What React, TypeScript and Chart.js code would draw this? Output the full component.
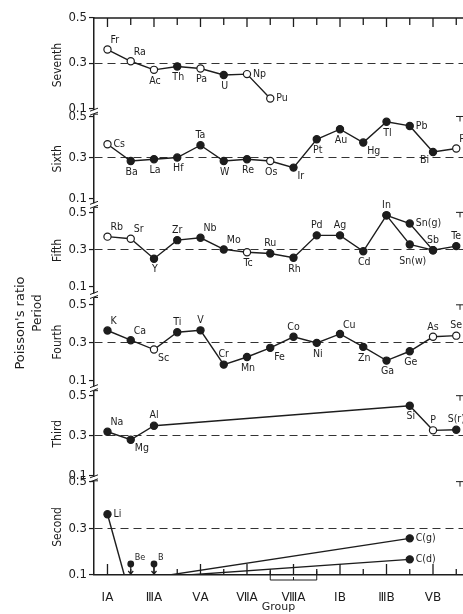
import React, { useEffect, useRef } from 'react';
import { Chart, registerables } from 'chart.js';

Chart.register(...registerables);

// ---------- data ----------
const groupLabels = ['IA', '', 'ⅢA', '', 'ⅤA', '', 'ⅦA', '', 'ⅧA', '', 'IB', '', 'ⅢB', '', 'ⅤB', ''];
const groupEightSpan = [8, 10];
const yTickValues = [0.1, 0.3, 0.5];
const referenceRatio = 0.3;

const seventhSymbols = ['Fr', 'Ra', 'Ac', 'Th', 'Pa', 'U', 'Np', 'Pu'];
const seventhGroups = [1, 2, 3, 4, 5, 6, 7, 8];
const seventhRatios = [0.36, 0.308, 0.27, 0.285, 0.276, 0.247, 0.251, 0.143];
const seventhFilled = [false, false, false, true, false, true, false, false];
const seventhLabelPos = ['ar', 'ar', 'b', 'b', 'b', 'b', 'r', 'r'];
const seventhPaths = [seventhSymbols];

const sixthSymbols = ['Cs', 'Ba', 'La', 'Hf', 'Ta', 'W', 'Re', 'Os', 'Ir', 'Pt', 'Au', 'Hg', 'Tl', 'Pb', 'Bi', 'Po'];
const sixthGroups = [1, 2, 3, 4, 5, 6, 7, 8, 9, 10, 11, 12, 13, 14, 15, 16];
const sixthRatios = [0.365, 0.283, 0.292, 0.3, 0.36, 0.283, 0.292, 0.283, 0.251, 0.389, 0.438, 0.373, 0.474, 0.454, 0.327, 0.344];
const sixthFilled = [false, true, true, true, true, true, true, false, true, true, true, true, true, true, true, false];
const sixthLabelPos = ['r', 'b', 'b', 'b', 'a', 'b', 'b', 'b', 'br', 'b', 'b', 'br', 'b', 'r', 'bl', 'ar'];
const sixthPaths = [sixthSymbols];

const fifthSymbols = ['Rb', 'Sr', 'Y', 'Zr', 'Nb', 'Mo', 'Tc', 'Ru', 'Rh', 'Pd', 'Ag', 'Cd', 'In', 'Sn(g)', 'Sn(w)', 'Sb', 'Te'];
const fifthGroups = [1, 2, 3, 4, 5, 6, 7, 8, 9, 10, 11, 12, 13, 14, 14, 15, 16];
const fifthRatios = [0.369, 0.358, 0.25, 0.35, 0.363, 0.3, 0.285, 0.278, 0.255, 0.376, 0.376, 0.29, 0.484, 0.44, 0.327, 0.296, 0.318];
const fifthFilled = [false, false, true, true, true, true, false, true, true, true, true, true, true, true, true, true, true];
const fifthLabelPos = ['ar', 'ar', 'b', 'a', 'ar', 'ar', 'b', 'a', 'b', 'a', 'a', 'b', 'a', 'r', 'bb', 'a', 'a'];
const fifthPaths = [
  ['Rb', 'Sr', 'Y', 'Zr', 'Nb', 'Mo', 'Tc', 'Ru', 'Rh', 'Pd', 'Ag', 'Cd', 'In', 'Sn(g)', 'Sb', 'Te'],
  ['In', 'Sn(w)', 'Sb'],
];

const fourthSymbols = ['K', 'Ca', 'Sc', 'Ti', 'V', 'Cr', 'Mn', 'Fe', 'Co', 'Ni', 'Cu', 'Zn', 'Ga', 'Ge', 'As', 'Se'];
const fourthGroups = [1, 2, 3, 4, 5, 6, 7, 8, 9, 10, 11, 12, 13, 14, 15, 16];
const fourthRatios = [0.365, 0.314, 0.265, 0.356, 0.366, 0.186, 0.226, 0.274, 0.332, 0.3, 0.347, 0.279, 0.207, 0.256, 0.332, 0.338];
const fourthFilled = [true, true, false, true, true, true, true, true, true, true, true, true, true, true, false, false];
const fourthLabelPos = ['ar', 'ar', 'br', 'a', 'a', 'a', 'b', 'br', 'a', 'b', 'ar', 'b', 'b', 'b', 'a', 'a'];
const fourthPaths = [fourthSymbols];

const thirdSymbols = ['Na', 'Mg', 'Al', 'Si', 'P', 'S(r)'];
const thirdGroups = [1, 2, 3, 14, 15, 16];
const thirdRatios = [0.32, 0.28, 0.35, 0.45, 0.327, 0.33];
const thirdFilled = [true, true, true, true, false, true];
const thirdLabelPos = ['ar', 'br', 'a', 'b', 'a', 'a'];
const thirdPaths = [thirdSymbols];

const secondSymbols = ['Li', 'Be', 'B', 'C(g)', 'C(d)'];
const secondGroups = [1, 2, 3, 14, 14];
const secondRatios = [0.36, 0.0, 0.09, 0.257, 0.167];
const secondFilled = [true, true, true, true, true];
const secondLabelPos = ['r', 'ar', 'ar', 'r', 'r'];
const secondPaths = [['Li', 'Be'], ['B', 'C(g)'], ['B', 'C(d)']];

// ---------- styling / layout ----------
const INK = '#1d1d1d';
const NARROW = "'Liberation Sans Narrow', 'DejaVu Sans Condensed', 'Liberation Sans', sans-serif";
const WIDE = "'DejaVu Sans', sans-serif";
const W = 463;
const H = 614;
const Y_AXIS_WIDTH = 94;
const X_AXIS_HEIGHT = 39;

const periods = [
  { axis: 'p7', name: 'Seventh', symbols: seventhSymbols, groups: seventhGroups, ratios: seventhRatios, filled: seventhFilled, labelPos: seventhLabelPos, paths: seventhPaths },
  { axis: 'p6', name: 'Sixth', symbols: sixthSymbols, groups: sixthGroups, ratios: sixthRatios, filled: sixthFilled, labelPos: sixthLabelPos, paths: sixthPaths },
  { axis: 'p5', name: 'Fifth', symbols: fifthSymbols, groups: fifthGroups, ratios: fifthRatios, filled: fifthFilled, labelPos: fifthLabelPos, paths: fifthPaths },
  { axis: 'p4', name: 'Fourth', symbols: fourthSymbols, groups: fourthGroups, ratios: fourthRatios, filled: fourthFilled, labelPos: fourthLabelPos, paths: fourthPaths },
  { axis: 'p3', name: 'Third', symbols: thirdSymbols, groups: thirdGroups, ratios: thirdRatios, filled: thirdFilled, labelPos: thirdLabelPos, paths: thirdPaths },
  { axis: 'p2', name: 'Second', symbols: secondSymbols, groups: secondGroups, ratios: secondRatios, filled: secondFilled, labelPos: secondLabelPos, paths: secondPaths },
];

// bottom panel first: the last stacked axis is laid out at the top
const panelLayout = [
  { id: 'p2', name: 'Second', min: 0.1, max: 0.512, weight: 96 },
  { id: 'p3', name: 'Third', min: 0.085, max: 0.535, weight: 90 },
  { id: 'p4', name: 'Fourth', min: 0.0595, max: 0.549, weight: 93 },
  { id: 'p5', name: 'Fifth', min: 0.0514, max: 0.538, weight: 90 },
  { id: 'p6', name: 'Sixth', min: 0.0673, max: 0.521, weight: 93 },
  { id: 'p7', name: 'Seventh', min: 0.0822, max: 0.5, weight: 94 },
];

const datasets: any[] = periods.flatMap((p) =>
  p.paths.map((path) => {
    const idx = path.map((s) => p.symbols.indexOf(s));
    return {
      label: p.name,
      xAxisID: 'x',
      yAxisID: p.axis,
      data: idx.map((i) => ({ x: p.groups[i], y: p.ratios[i] })),
      borderColor: INK,
      borderWidth: 1.4,
      tension: 0,
      pointRadius: (c: any) => {
        const sc = c.chart.scales[p.axis];
        return c.raw && sc && c.raw.y < sc.min ? 0 : 3.6;
      },
      pointBackgroundColor: idx.map((i) => (p.filled[i] ? INK : '#ffffff')),
      pointBorderColor: INK,
      pointBorderWidth: 1.2,
    };
  })
);

function yScale(l: any) {
  return {
    type: 'linear',
    position: 'left',
    stack: 'periods',
    stackWeight: l.weight,
    min: l.min,
    max: l.max,
    afterBuildTicks: (a: any) => {
      a.ticks = yTickValues.map((v) => ({ value: v }));
    },
    afterFit: (s: any) => {
      s.width = Y_AXIS_WIDTH;
      s.paddingTop = 0;
      s.paddingBottom = 0;
    },
    ticks: {
      autoSkip: false,
      padding: 2,
      color: INK,
      font: { family: NARROW, size: 13 },
      callback: (v: any) => Number(v).toFixed(1),
    },
    grid: {
      drawOnChartArea: true,
      drawTicks: true,
      tickLength: 5,
      tickColor: INK,
      tickWidth: 1.2,
      lineWidth: 1.1,
      color: (c: any) => (c.tick && Math.abs(c.tick.value - referenceRatio) < 1e-6 ? '#333333' : 'rgba(0,0,0,0)'),
    },
    border: { display: true, color: INK, width: 1.5, dash: [8, 5] },
    title: {
      display: true,
      text: l.name,
      color: INK,
      font: { family: NARROW, size: 12 },
      padding: { top: 51, bottom: 0 },
    },
  };
}

const scales: any = {
  x: {
    type: 'linear',
    position: 'bottom',
    min: 0.42,
    max: 16.29,
    afterBuildTicks: (a: any) => {
      a.ticks = groupLabels.map((_, i) => ({ value: i + 1 }));
    },
    afterFit: (s: any) => {
      s.height = X_AXIS_HEIGHT;
      s.paddingLeft = 0;
      s.paddingRight = 0;
    },
    ticks: {
      autoSkip: false,
      maxRotation: 0,
      minRotation: 0,
      padding: 8,
      color: INK,
      font: { family: WIDE, size: 12 },
      callback: (v: any) => groupLabels[Math.round(Number(v)) - 1] ?? '',
    },
    grid: { display: false },
    border: { display: true, color: INK, width: 1.5 },
    title: {
      display: true,
      text: 'Group',
      color: INK,
      font: { family: WIDE, size: 11 },
      padding: { top: 0, bottom: 0 },
    },
  },
};
for (const l of panelLayout) scales[l.id] = yScale(l);

const OFFS: Record<string, [number, number, CanvasTextAlign]> = {
  a: [0, -10, 'center'],
  b: [1, 11, 'center'],
  bb: [3, 17, 'center'],
  r: [6, 0, 'left'],
  l: [-6, 0, 'right'],
  ar: [3, -9, 'left'],
  br: [4, 9, 'left'],
  al: [-3, -9, 'right'],
  bl: [-4, 8, 'right'],
};

const decor = {
  id: 'decor',
  afterDraw(chart: any) {
    const ctx: CanvasRenderingContext2D = chart.ctx;
    const xs = chart.scales.x;
    const area = chart.chartArea;
    ctx.save();
    ctx.strokeStyle = INK;
    ctx.fillStyle = INK;
    ctx.lineWidth = 1.3;

    // top frame with inward ticks, inward ticks on the group axis
    ctx.beginPath();
    ctx.moveTo(area.left, area.top);
    ctx.lineTo(area.right, area.top);
    ctx.stroke();
    groupLabels.forEach((lab, i) => {
      const x = xs.getPixelForValue(i + 1);
      ctx.beginPath();
      ctx.moveTo(x, area.top);
      ctx.lineTo(x, area.top + (lab ? 9 : 7));
      ctx.moveTo(x, area.bottom);
      ctx.lineTo(x, area.bottom - (lab ? 11 : 6));
      ctx.stroke();
    });

    // group VIII bracket
    const b0 = xs.getPixelForValue(groupEightSpan[0]);
    const b1 = xs.getPixelForValue(groupEightSpan[1]);
    const bm = (b0 + b1) / 2;
    ctx.lineWidth = 1;
    ctx.beginPath();
    ctx.moveTo(b0, area.bottom - 4);
    ctx.lineTo(b0, area.bottom + 5);
    ctx.lineTo(b1, area.bottom + 5);
    ctx.lineTo(b1, area.bottom - 4);
    ctx.moveTo(bm, area.bottom + 5);
    ctx.lineTo(bm, area.bottom + 2);
    ctx.stroke();

    // axis breaks between panels and right-hand caps
    panelLayout.forEach((l, k) => {
      const ys = chart.scales[l.id];
      if (k < panelLayout.length - 1) {
        const y = ys.top;
        const x = area.left;
        ctx.fillStyle = '#ffffff';
        ctx.fillRect(x - 2, y - 2, 4, 4);
        ctx.fillStyle = INK;
        ctx.lineWidth = 1;
        ctx.beginPath();
        ctx.moveTo(x - 4, y - 1);
        ctx.lineTo(x + 4, y - 4);
        ctx.moveTo(x - 4, y + 3);
        ctx.lineTo(x + 4, y);
        ctx.moveTo(x, y + 2);
        ctx.lineTo(x + 4, y + 2);
        ctx.stroke();
        const yt = ys.getPixelForValue(0.5);
        ctx.beginPath();
        ctx.moveTo(area.right - 7, yt);
        ctx.lineTo(area.right, yt);
        ctx.moveTo(area.right - 3, yt);
        ctx.lineTo(area.right - 3, yt + 5);
        ctx.stroke();
      }
    });

    // element labels and off-scale indicators
    ctx.textBaseline = 'middle';
    ctx.font = `10.5px ${NARROW}`;
    for (const p of periods) {
      const ys = chart.scales[p.axis];
      p.symbols.forEach((s, i) => {
        const x = xs.getPixelForValue(p.groups[i]);
        if (p.ratios[i] < ys.min) {
          const yb = ys.bottom;
          ctx.lineWidth = 1.2;
          ctx.beginPath();
          ctx.arc(x, yb - 11, 3.4, 0, Math.PI * 2);
          ctx.fill();
          ctx.beginPath();
          ctx.moveTo(x, yb - 8);
          ctx.lineTo(x, yb - 1);
          ctx.moveTo(x - 2.5, yb - 4);
          ctx.lineTo(x, yb - 1);
          ctx.lineTo(x + 2.5, yb - 4);
          ctx.stroke();
          ctx.font = `9px ${NARROW}`;
          ctx.textAlign = 'left';
          ctx.fillText(s, x + 4, yb - 17);
          ctx.font = `10.5px ${NARROW}`;
          return;
        }
        const y = ys.getPixelForValue(p.ratios[i]);
        const [dx, dy, align] = OFFS[p.labelPos[i]] || OFFS.a;
        ctx.textAlign = align;
        ctx.fillText(s, x + dx, y + dy);
      });
    }

    // common titles
    ctx.font = `13px ${WIDE}`;
    ctx.textAlign = 'center';
    ctx.save();
    ctx.translate(21, 323);
    ctx.rotate(-Math.PI / 2);
    ctx.fillText("Poisson's ratio", 0, 0);
    ctx.restore();
    ctx.save();
    ctx.font = `12px ${WIDE}`;
    ctx.translate(38, 313);
    ctx.rotate(-Math.PI / 2);
    ctx.fillText('Period', 0, 0);
    ctx.restore();

    ctx.restore();
  },
};

export default function App() {
  const ref = useRef<HTMLCanvasElement>(null);
  useEffect(() => {
    const chart = new Chart(ref.current as HTMLCanvasElement, {
      type: 'line',
      data: { datasets },
      options: {
        animation: false,
        responsive: false,
        devicePixelRatio: 1,
        events: [],
        layout: { padding: { top: 18, left: 0, right: 0, bottom: 0 }, autoPadding: false },
        plugins: { legend: { display: false }, tooltip: { enabled: false } },
        scales,
      } as any,
      plugins: [decor as any],
    });
    return () => chart.destroy();
  }, []);
  return (
    <div style={{ position: 'absolute', left: 0, top: 0, width: W, height: H, background: '#ffffff', overflow: 'hidden' }}>
      <canvas ref={ref} width={W} height={H} style={{ display: 'block' }} />
    </div>
  );
}
